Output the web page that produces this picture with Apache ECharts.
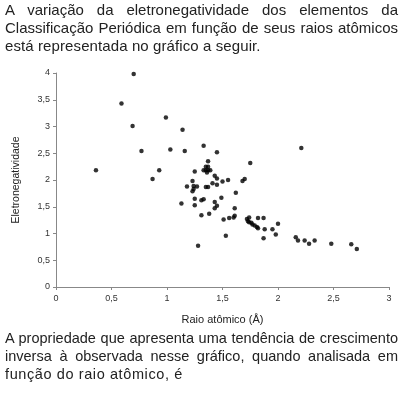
<!DOCTYPE html>
<html><head><meta charset="utf-8">
<script src="https://cdn.jsdelivr.net/npm/echarts@6/dist/echarts.min.js"></script>
<style>
html,body{margin:0;padding:0;background:#fff;}
#wrap{position:relative;width:405px;height:393px;overflow:hidden;}
#chart{position:absolute;left:0;top:0;width:405px;height:393px;}
.t{position:absolute;left:5px;width:393px;font-family:"Liberation Sans",Arial,sans-serif;font-size:15px;color:#222;white-space:nowrap;line-height:18px;}
.b{font-size:14.5px;}
.j{text-align:justify;text-align-last:justify;white-space:normal;}
</style></head>
<body><div id="wrap"><div id="chart"></div>
<div class="t j" style="top:1px">A variação da eletronegatividade dos elementos da</div>
<div class="t j" style="top:19px">Classificação Periódica em função de seus raios atômicos</div>
<div class="t" style="top:37px;letter-spacing:0.1px">está representada no gráfico a seguir.</div>
<div class="t b j" style="top:329px">A propriedade que apresenta uma tendência de crescimento</div>
<div class="t b j" style="top:347px">inversa à observada nesse gráfico, quando analisada em</div>
<div class="t b" style="top:365px;letter-spacing:0.6px">função do raio atômico, é</div>
</div>
<script>
const raio = [0.70,0.59,0.99,0.69,0.77,1.03,0.36,0.93,0.87,1.14,1.16,1.33,1.45,1.37,1.75,1.35,1.37,1.33,1.35,1.37,1.39,1.36,1.25,1.43,1.45,1.23,1.50,1.55,1.70,1.68,1.18,1.24,1.27,1.24,1.23,1.35,1.37,1.41,1.45,1.62,1.49,1.25,1.31,1.33,1.43,1.45,1.43,1.61,1.13,1.25,1.31,1.38,1.51,1.56,1.60,1.61,1.53,1.28,1.72,1.73,1.74,1.76,1.77,1.79,1.81,1.82,1.74,1.82,1.87,1.88,1.95,2.00,1.87,1.98,2.16,2.18,2.24,2.28,2.33,2.48,2.21,2.66,2.71];
const eletroneg = [3.98,3.43,3.17,3.01,2.54,2.57,2.18,2.18,2.02,2.94,2.54,2.64,2.52,2.35,2.32,2.25,2.25,2.18,2.18,2.18,2.18,2.14,2.16,2.08,2.03,1.98,1.97,2.00,2.02,1.98,1.88,1.89,1.88,1.83,1.79,1.87,1.87,1.94,1.91,1.76,1.67,1.65,1.62,1.64,1.59,1.52,1.47,1.47,1.56,1.53,1.34,1.37,1.26,1.29,1.30,1.33,0.96,0.77,1.27,1.23,1.21,1.20,1.17,1.15,1.12,1.10,1.30,1.29,1.29,1.08,1.08,1.18,0.91,0.98,0.93,0.87,0.87,0.81,0.87,0.81,2.60,0.80,0.71];
const xTitle = "Raio atômico (Å)";
const yTitle = "Eletronegatividade";
const pts = raio.map((r,i)=>[r, eletroneg[i]]);
const fmt = v => String(v).replace('.', ',');
const chart = echarts.init(document.getElementById('chart'), null, {renderer:'canvas'});
const axisCommon = {
  axisLine:{show:true,lineStyle:{color:'#888',width:1}},
  axisTick:{show:true,length:3,lineStyle:{color:'#888'}},
  splitLine:{show:false},
  axisLabel:{color:'#333',fontSize:9,fontFamily:'Liberation Sans, Arial, sans-serif',formatter:fmt}
};
chart.setOption({
  animation:false,
  grid:{left:56,right:16,top:73,bottom:106,containLabel:false},
  xAxis:Object.assign({type:'value',min:0,max:3,interval:0.5,
    name:xTitle,nameLocation:'middle',nameGap:27,
    nameTextStyle:{color:'#222',fontSize:11,fontFamily:'Liberation Sans, Arial, sans-serif'}},axisCommon,
    {axisLabel:Object.assign({},axisCommon.axisLabel,{margin:7})}),
  yAxis:Object.assign({type:'value',min:0,max:4,interval:0.5,
    name:yTitle,nameLocation:'middle',nameGap:34,nameRotate:90,
    nameTextStyle:{color:'#222',fontSize:10.5,fontFamily:'Liberation Sans, Arial, sans-serif'}},axisCommon,
    {axisLabel:Object.assign({},axisCommon.axisLabel,{margin:6})}),
  series:[{type:'scatter',data:pts,symbol:'circle',symbolSize:4.5,
    itemStyle:{color:'#000'}}]
});
</script>
</body></html>
